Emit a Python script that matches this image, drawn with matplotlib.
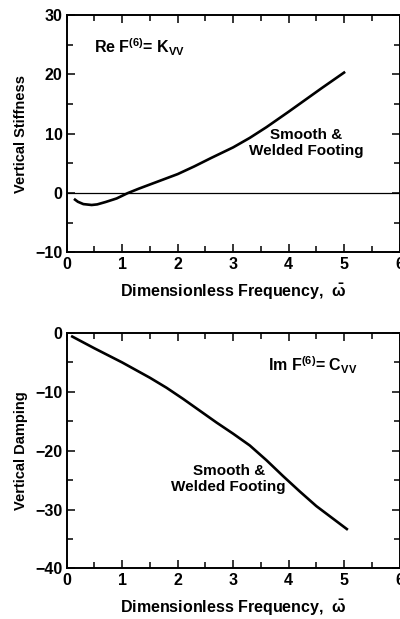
import matplotlib
matplotlib.use("Agg")
import matplotlib.pyplot as plt
from matplotlib.ticker import MultipleLocator

plt.rcParams['font.family'] = ['Liberation Sans', 'DejaVu Sans']
plt.rcParams['font.weight'] = 'bold'
plt.rcParams['mathtext.fontset'] = 'custom'
plt.rcParams['mathtext.rm'] = 'Liberation Sans:bold'
plt.rcParams['mathtext.it'] = 'Liberation Sans:bold'
plt.rcParams['mathtext.bf'] = 'Liberation Sans:bold'

# Data
freq_stiff = [0.15, 0.2, 0.3, 0.45, 0.55, 0.7, 0.9, 1.1, 1.3, 1.6, 2.0, 2.3, 2.6,
              3.0, 3.3, 3.6, 4.0, 4.3, 4.6, 5.0]
stiffness = [-1.1, -1.45, -1.85, -2.0, -1.9, -1.5, -0.9, 0.0, 0.75, 1.8, 3.2, 4.5,
             5.9, 7.7, 9.3, 11.1, 13.7, 15.7, 17.7, 20.3]

freq_damp = [0.1, 0.5, 1.0, 1.5, 1.8, 2.1, 2.4, 2.7, 3.0, 3.3, 3.6, 3.9, 4.2, 4.5, 5.05]
damping = [-0.6, -2.6, -5.0, -7.6, -9.3, -11.2, -13.2, -15.2, -17.1, -19.1, -21.6,
           -24.3, -26.9, -29.4, -33.3]

xticks = [0, 1, 2, 3, 4, 5, 6]
stiff_yticks = [-10, 0, 10, 20, 30]
damp_yticks = [-40, -30, -20, -10, 0]

fig = plt.figure(figsize=(4.0, 6.19), dpi=100)
ax1 = fig.add_axes([0.1668, 0.5921, 0.832, 0.3837])
ax2 = fig.add_axes([0.1668, 0.0816, 0.832, 0.3804])

TICK_FS = 11.5
TEXT_FS = 11
xlabel = r"Dimensionless Frequency,  $\bar{\omega}$"

def style(ax, yticks, ylabel):
    ax.set_xlim(0, 6)
    ax.set_ylim(yticks[0], yticks[-1])
    ax.set_xticks(xticks)
    ax.set_yticks(yticks)
    ax.xaxis.set_minor_locator(MultipleLocator(0.5))
    ax.yaxis.set_minor_locator(MultipleLocator(5))
    ax.tick_params(which='both', direction='in', top=True, right=True,
                   width=1.1, labelsize=TICK_FS, pad=3)
    ax.tick_params(which='major', length=6)
    ax.tick_params(which='minor', length=4)
    for s in ax.spines.values():
        s.set_linewidth(1.4)
    ax.set_xlabel(xlabel, fontsize=11.5, fontweight='bold', labelpad=7)
    ax.set_ylabel(ylabel, fontsize=10.5, fontweight='bold', labelpad=5)
    for lab in ax.get_xticklabels() + ax.get_yticklabels():
        lab.set_fontweight('bold')

style(ax1, stiff_yticks, "Vertical Stiffness")
ax1.axhline(0, color='black', lw=0.9)
ax1.plot(freq_stiff, stiffness, color='black', lw=1.9)
ax1.text(0.5, 24.6, r"Re F$^{(6)}$= K$_{\mathrm{VV}}$", fontsize=11.5, fontweight='bold',
         ha='left', va='center')
ax1.text(4.31, 8.4, "Smooth &\nWelded Footing", fontsize=TEXT_FS, fontweight='bold',
         ha='center', va='center', linespacing=1.15)

style(ax2, damp_yticks, "Vertical Damping")
ax2.plot(freq_damp, damping, color='black', lw=1.9)
ax2.text(3.63, -5.5, r"Im F$^{(6)}$= C$_{\mathrm{VV}}$", fontsize=11.5, fontweight='bold',
         ha='left', va='center')
ax2.text(2.92, -24.8, "Smooth &\nWelded Footing", fontsize=TEXT_FS, fontweight='bold',
         ha='center', va='center', linespacing=1.15)

fig.savefig("out.png", dpi=100)
